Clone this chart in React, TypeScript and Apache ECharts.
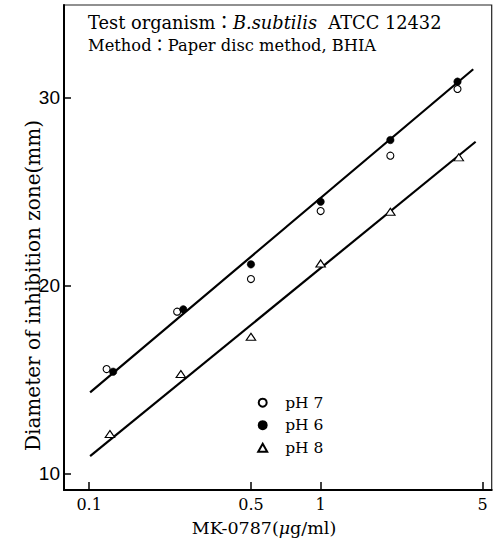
import React, { useEffect, useRef } from "react";
import * as echarts from "echarts";

// Data (x: MK-0787 µg/ml, y: diameter mm)
const ph7X = [0.119, 0.24, 0.5, 1, 2, 3.9];
const ph7Y = [15.57, 18.62, 20.35, 23.96, 26.9, 30.44];
const ph6X = [0.127, 0.255, 0.5, 1, 2, 3.9];
const ph6Y = [15.43, 18.74, 21.13, 24.46, 27.73, 30.83];
const ph8X = [0.123, 0.249, 0.5, 1, 2, 3.95];
const ph8Y = [12.12, 15.31, 17.29, 21.18, 23.92, 26.81];
const upperLineX = [0.101, 4.56];
const upperLineY = [14.33, 31.49];
const lowerLineX = [0.101, 4.67];
const lowerLineY = [10.95, 27.64];
const xTicks = [0.1, 0.5, 1, 5];
const yTicks = [10, 20, 30];
const xRange = [0.0779, 5.48];
const yRange = [9.15, 34.9];
const legendNames = ["pH 7", "pH 6", "pH 8"];

const zip = (xs: number[], ys: number[]) => xs.map((x, i) => [x, ys[i]]);
const SERIF = '"DejaVu Serif", "Noto Sans CJK JP", serif';

export default function App() {
  const ref = useRef<HTMLDivElement>(null);
  useEffect(() => {
    if (!ref.current) return;
    const chart = echarts.init(ref.current, null, { renderer: "svg" });
    const fmt = (v: number) => String(parseFloat(Math.pow(10, v).toPrecision(6)));
    chart.setOption({
      animation: false,
      backgroundColor: "#fff",
      grid: {
        left: 64,
        right: 6.3,
        top: 5,
        bottom: 53,
        show: true,
        borderColor: "#222",
        borderWidth: 1.2,
        containLabel: false,
        outerBoundsMode: "none",
      },
      legend: {
        data: legendNames,
        orient: "vertical",
        left: 252.2,
        top: 389.7,
        itemWidth: 9,
        itemHeight: 8,
        itemGap: 6.5,
        textStyle: {
          fontFamily: SERIF,
          fontSize: 15.5,
          color: "#000",
          lineHeight: 16,
          padding: [0, 0, 0, 13],
        },
        selectedMode: false,
      },
      xAxis: [
        {
          type: "log",
          logBase: 10,
          min: xRange[0],
          max: xRange[1],
          axisLine: { show: true, onZero: false, lineStyle: { color: "#000", width: 2 } },
          axisTick: { show: false },
          axisLabel: { show: false },
          splitLine: { show: false },
          minorTick: { show: false },
        },
        {
          type: "value",
          position: "bottom",
          min: Math.log10(xRange[0]),
          max: Math.log10(xRange[1]),
          axisLine: { show: false, onZero: false },
          axisTick: {
            show: true,
            inside: true,
            length: 8,
            customValues: xTicks.map((t) => Math.log10(t)),
            lineStyle: { color: "#000", width: 1.5 },
          },
          axisLabel: {
            customValues: xTicks.map((t) => Math.log10(t)),
            formatter: (v: number) => fmt(v),
            fontFamily: SERIF,
            fontSize: 16,
            color: "#000",
            margin: 6,
          },
          splitLine: { show: false },
        },
      ],
      yAxis: {
        type: "value",
        position: "left",
        min: yRange[0],
        max: yRange[1],
        axisLine: { show: true, onZero: false, lineStyle: { color: "#000", width: 2 } },
        axisTick: {
          show: true,
          inside: true,
          length: 7,
          customValues: yTicks,
          lineStyle: { color: "#000", width: 1.5 },
        },
        axisLabel: {
          customValues: yTicks,
          fontFamily: '"Liberation Sans Narrow", "Liberation Sans", sans-serif',
          fontSize: 19,
          color: "#000",
          margin: 4,
        },
        splitLine: { show: false },
      },
      graphic: [
        {
          type: "text",
          x: 88,
          y: 22,
          style: {
            text: "{a|Test organism：}{i|B.subtilis}{a|  ATCC 12432}",
            rich: {
              a: { fontFamily: SERIF, fontSize: 17.8, fill: "#000" },
              i: { fontFamily: SERIF, fontSize: 17.8, fontStyle: "italic", fill: "#000" },
            },
            verticalAlign: "middle",
            align: "left",
          },
        },
        {
          type: "text",
          x: 88,
          y: 45,
          style: {
            text: "Method：Paper disc method, BHIA",
            fontFamily: SERIF,
            fontSize: 16.3,
            fill: "#000",
            verticalAlign: "middle",
            align: "left",
          },
        },
        {
          type: "text",
          x: 33,
          y: 285.5,
          rotation: Math.PI / 2,
          style: {
            text: "Diameter of inhibition zone(mm)",
            fontFamily: SERIF,
            fontSize: 20,
            fill: "#000",
            verticalAlign: "middle",
            align: "center",
          },
        },
        {
          type: "text",
          x: 264,
          y: 528,
          style: {
            text: "{a|MK-0787(}{i|μ}{a|g/ml)}",
            rich: {
              a: { fontFamily: SERIF, fontSize: 17.5, fill: "#000" },
              i: { fontFamily: SERIF, fontSize: 17.5, fontStyle: "italic", fill: "#000" },
            },
            verticalAlign: "middle",
            align: "center",
          },
        },
      ],
      series: [
        {
          type: "line",
          data: zip(upperLineX, upperLineY),
          showSymbol: false,
          lineStyle: { color: "#000", width: 2.2 },
          silent: true,
          z: 1,
        },
        {
          type: "line",
          data: zip(lowerLineX, lowerLineY),
          showSymbol: false,
          lineStyle: { color: "#000", width: 2.2 },
          silent: true,
          z: 1,
        },
        {
          name: "pH 7",
          type: "scatter",
          data: zip(ph7X, ph7Y),
          symbol: "circle",
          symbolSize: 7,
          itemStyle: { color: "#fff", borderColor: "#000", borderWidth: 1.1, opacity: 1 },
          z: 3,
        },
        {
          name: "pH 6",
          type: "scatter",
          data: zip(ph6X, ph6Y),
          symbol: "circle",
          symbolSize: 7.5,
          itemStyle: { color: "#000", borderColor: "#000", borderWidth: 0.5, opacity: 1 },
          z: 4,
        },
        {
          name: "pH 8",
          type: "scatter",
          data: zip(ph8X, ph8Y),
          symbol: "triangle",
          symbolSize: [9.5, 7],
          itemStyle: { color: "#fff", borderColor: "#000", borderWidth: 1.1, opacity: 1 },
          z: 3,
        },
      ],
    });
    return () => chart.dispose();
  }, []);
  return <div ref={ref} style={{ width: 498, height: 543, position: "absolute", left: 0, top: 0 }} />;
}
